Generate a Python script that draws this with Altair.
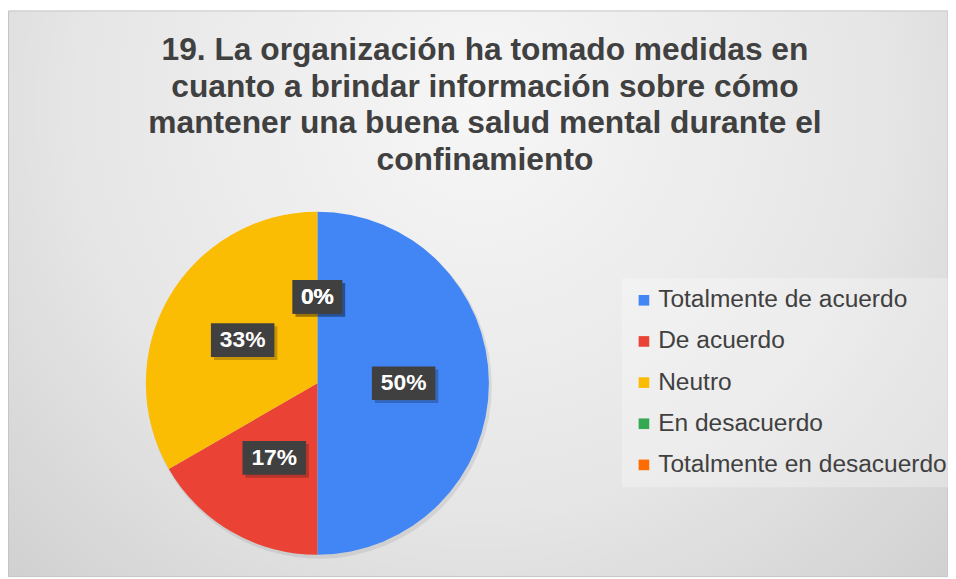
import altair as alt
import pandas as pd

categories = ["Totalmente de acuerdo", "De acuerdo", "Neutro", "En desacuerdo", "Totalmente en desacuerdo"]
counts = [3, 1, 2, 0, 0]
colors = ["#4285F4", "#EA4335", "#FBBC04", "#34A853", "#FF6D01"]
title_lines = [
    "19. La organización ha tomado medidas en",
    "cuanto a brindar información sobre cómo",
    "mantener una buena salud mental durante el",
    "confinamiento",
]

df = pd.DataFrame({"cat": categories, "value": counts, "idx": list(range(len(categories)))})

W, H = 948, 571
CX, CY, R = 312, 376, 173
LR = 87

bg = alt.Chart(alt.Data(values=[{}])).mark_rect(
    color=alt.Gradient(
        gradient="radial",
        x1=0.5, y1=0.3, r1=0,
        x2=0.5, y2=0.3, r2=0.85,
        stops=[
            alt.GradientStop(color="#f6f6f6", offset=0),
            alt.GradientStop(color="#e6e6e6", offset=0.5),
            alt.GradientStop(color="#c6c6c6", offset=1),
        ],
    ),
    stroke="#c4c4c4",
    strokeWidth=1,
).encode(x=alt.value(0.5), x2=alt.value(W), y=alt.value(0.5), y2=alt.value(H))

base = alt.Chart(df)

pie_shadow = base.mark_arc(outerRadius=R + 1, color="#000000", opacity=0.08).encode(
    theta=alt.Theta("value:Q", stack=True),
    order=alt.Order("idx:Q"),
    x=alt.value(CX + 2), y=alt.value(CY + 3),
)

pie = base.mark_arc(outerRadius=R).encode(
    theta=alt.Theta("value:Q", stack=True),
    order=alt.Order("idx:Q"),
    color=alt.Color(
        "cat:N",
        scale=alt.Scale(domain=categories, range=colors),
        sort=categories,
        legend=alt.Legend(
            orient="none", legendX=619, legendY=270, title=None,
            symbolType="square", symbolSize=115, symbolStrokeWidth=0,
            labelFontSize=24.7, labelFont="Liberation Sans", labelColor="#404040",
            labelOffset=2, rowPadding=15.5, padding=10, labelLimit=0,
            fillColor="rgba(255,255,255,0.28)",
        ),
    ),
    x=alt.value(CX), y=alt.value(CY),
)

lab = base.transform_window(
    cum="sum(value)", sort=[alt.SortField("idx")], frame=[None, 0]
).transform_joinaggregate(total="sum(value)").transform_calculate(
    mid="2*PI*(datum.cum - datum.value/2)/datum.total",
    pct="format(datum.value/datum.total, '.0%')",
).transform_calculate(
    px=f"{CX} + {LR}*sin(datum.mid)",
    py=f"{CY} - {LR}*cos(datum.mid)",
    hw="length(datum.pct)*7 + 11",
).transform_calculate(
    bx1="datum.px - datum.hw", bx2="datum.px + datum.hw",
    by1="datum.py - 17", by2="datum.py + 17",
    sx1="datum.px - datum.hw + 3", sx2="datum.px + datum.hw + 3",
    sy1="datum.py - 17 + 3", sy2="datum.py + 17 + 3",
)

box_shadow = lab.mark_rect(color="#000000", opacity=0.22).encode(
    x=alt.X("sx1:Q", scale=None, axis=None), x2="sx2:Q",
    y=alt.Y("sy1:Q", scale=None, axis=None), y2="sy2:Q",
)
boxes = lab.mark_rect(color="#404040").encode(
    x=alt.X("bx1:Q", scale=None, axis=None), x2="bx2:Q",
    y=alt.Y("by1:Q", scale=None, axis=None), y2="by2:Q",
)
texts = lab.mark_text(
    font="Liberation Sans", fontSize=23, fontWeight="bold", color="#ffffff",
    align="center", baseline="middle",
).encode(
    x=alt.X("px:Q", scale=None, axis=None),
    y=alt.Y("py:Q", scale=None, axis=None),
    text="pct:N",
)

title = alt.Chart(alt.Data(values=[{"t": "\n".join(title_lines)}])).mark_text(
    font="Liberation Sans", fontSize=32, fontWeight="bold", color="#404040",
    align="center", baseline="alphabetic", lineBreak="\n", lineHeight=37,
).encode(x=alt.value(481), y=alt.value(50), text="t:N")

chart = alt.layer(bg, pie_shadow, pie, box_shadow, boxes, texts, title).properties(
    width=W, height=H, autosize=alt.AutoSizeParams(type="none"), padding=0,
).configure_view(stroke=None)

chart.save("out.html", embed_options={"renderer": "svg", "actions": False})
